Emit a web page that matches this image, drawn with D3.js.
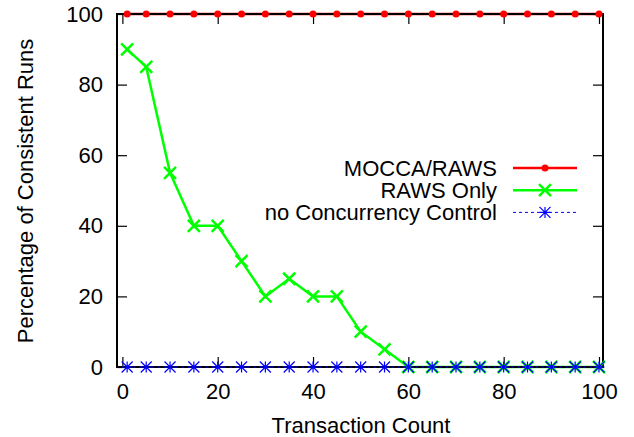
<!DOCTYPE html>
<html>
<head>
<meta charset="utf-8">
<script src="https://cdn.jsdelivr.net/npm/d3@7"></script>
<style>
  body { margin: 0; background: #fff; }
  svg { display: block; font-family: "Liberation Sans", Arial, sans-serif; }
</style>
</head>
<body>
<div id="chart"></div>
<script>
const txCounts = [1, 5, 10, 15, 20, 25, 30, 35, 40, 45, 50, 55, 60, 65, 70, 75, 80, 85, 90, 95, 100];
const moccaRaws = [100, 100, 100, 100, 100, 100, 100, 100, 100, 100, 100, 100, 100, 100, 100, 100, 100, 100, 100, 100, 100];
const rawsOnly = [90, 85, 55, 40, 40, 30, 20, 25, 20, 20, 10, 5, 0, 0, 0, 0, 0, 0, 0, 0, 0];
const noCC = [0, 0, 0, 0, 0, 0, 0, 0, 0, 0, 0, 0, 0, 0, 0, 0, 0, 0, 0, 0, 0];
const xTicks = [0, 20, 40, 60, 80, 100];
const yTicks = [0, 20, 40, 60, 80, 100];
const seriesNames = ["MOCCA/RAWS", "RAWS Only", "no Concurrency Control"];

const width = 634, height = 437;
const margin = {top: 14, right: 31, bottom: 70, left: 117};
const iw = width - margin.left - margin.right,
  ih = height - margin.top - margin.bottom;
const fs = "22px";

const svg = d3.select("#chart").append("svg")
    .attr("width", width)
    .attr("height", height);
const g = svg.append("g")
    .attr("transform", "translate(" + margin.left + "," + margin.top + ")");

const x = d3.scaleLinear().domain([-1.13, 100.84]).range([0, iw]);
const y = d3.scaleLinear().domain([0, 100]).range([ih, 0]);

// axes, gnuplot style ticks pointing inward
g.append("g")
    .attr("transform", "translate(0," + ih + ")")
    .style("font-size", fs)
    .call(d3.axisBottom(x).tickValues(xTicks).tickSizeInner(-10).tickSizeOuter(0).tickPadding(16))
    .call(a => a.select(".domain").remove());
g.append("g")
    .call(d3.axisTop(x).tickValues(xTicks).tickSizeInner(-10).tickSizeOuter(0).tickFormat(""))
    .call(a => a.select(".domain").remove());
g.append("g")
    .style("font-size", fs)
    .call(d3.axisLeft(y).tickValues(yTicks).tickSizeInner(-10).tickSizeOuter(0).tickPadding(14))
    .call(a => a.select(".domain").remove());
g.append("g")
    .attr("transform", "translate(" + iw + ",0)")
    .call(d3.axisRight(y).tickValues(yTicks).tickSizeInner(-10).tickSizeOuter(0).tickFormat(""))
    .call(a => a.select(".domain").remove());
g.selectAll(".tick line").attr("stroke", "#000").attr("stroke-width", 1.2);
g.selectAll(".tick text").attr("fill", "#000");

const line = d3.line().x(d => x(d[0])).y(d => y(d[1]));
const pairs = vals => txCounts.map((t, i) => [t, vals[i]]);

g.append("path").datum(pairs(moccaRaws))
    .attr("d", line).attr("fill", "none").attr("stroke", "#ff0000").attr("stroke-width", 2.5);
g.append("path").datum(pairs(rawsOnly))
    .attr("d", line).attr("fill", "none").attr("stroke", "#00ff00").attr("stroke-width", 2.5);

// border on top of the lines
g.append("rect").attr("width", iw).attr("height", ih)
    .attr("fill", "none").attr("stroke", "#000").attr("stroke-width", 2);

g.append("path").datum(pairs(noCC))
    .attr("d", line).attr("fill", "none").attr("stroke", "#0000ff").attr("stroke-width", 1)
    .attr("stroke-dasharray", "3,3");

function dot(sel, cx, cy) {
  sel.append("circle").attr("cx", cx).attr("cy", cy).attr("r", 3.5).attr("fill", "#ff0000");
}
function cross(sel, cx, cy, c, w) {
  const s = 6;
  sel.append("path")
    .attr("d", `M${cx - s},${cy - s}L${cx + s},${cy + s}M${cx - s},${cy + s}L${cx + s},${cy - s}`)
    .attr("stroke", c).attr("stroke-width", w);
}
function star(sel, cx, cy) {
  const s = 5.5;
  sel.append("path")
    .attr("d", `M${cx - s},${cy - s}L${cx + s},${cy + s}M${cx - s},${cy + s}L${cx + s},${cy - s}M${cx},${cy - s}L${cx},${cy + s}M${cx - s},${cy}L${cx + s},${cy}`)
    .attr("stroke", "#0000ff").attr("stroke-width", 1.2);
}

const marks = g.append("g");
txCounts.forEach((t, i) => dot(marks, x(t), y(moccaRaws[i])));
txCounts.forEach((t, i) => cross(marks, x(t), y(rawsOnly[i]), "#00ff00", 2.5));
txCounts.forEach((t, i) => star(marks, x(t), y(noCC[i])));

// legend
const leg = svg.append("g").attr("transform", "translate(497,168)");
seriesNames.forEach((name, i) => {
  const row = leg.append("g").attr("transform", "translate(0," + i * 22.2 + ")");
  row.append("text").attr("x", 0).attr("y", 8).attr("text-anchor", "end")
    .style("font-size", fs).text(name);
  const ln = row.append("line").attr("x1", 16).attr("x2", 80).attr("y1", 0).attr("y2", 0);
  if (i === 0) {
    ln.attr("stroke", "#ff0000").attr("stroke-width", 2.5);
    dot(row, 48, 0);
  } else if (i === 1) {
    ln.attr("stroke", "#00ff00").attr("stroke-width", 2.5);
    cross(row, 48, 0, "#00ff00", 2.5);
  } else {
    ln.attr("stroke", "#0000ff").attr("stroke-width", 1).attr("stroke-dasharray", "3,3");
    star(row, 48, 0);
  }
});

// axis titles
svg.append("text").attr("x", 361).attr("y", 433).attr("text-anchor", "middle")
  .style("font-size", fs).text("Transaction Count");
svg.append("text").attr("transform", "translate(33,191) rotate(-90)").attr("text-anchor", "middle")
  .style("font-size", fs).text("Percentage of Consistent Runs");
</script>
</body>
</html>
